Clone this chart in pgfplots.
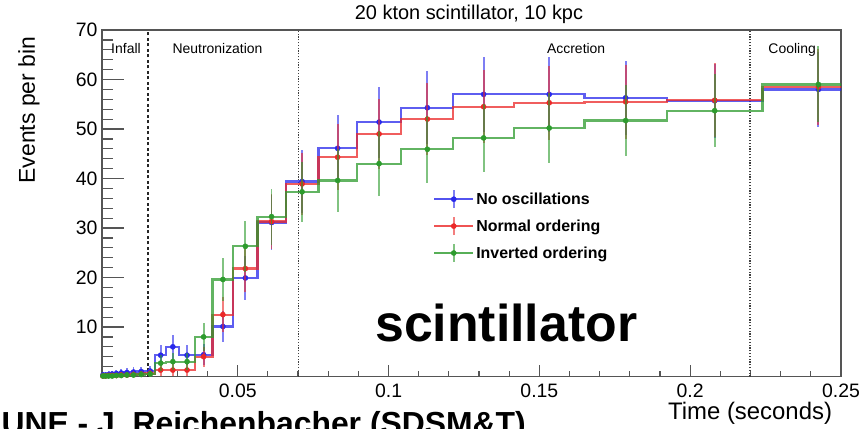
\documentclass[border=0pt]{standalone}
\usepackage{pgfplots}
\pgfplotsset{compat=1.18}
\usepackage{pgfplotstable}
\usepackage{fontspec}
\setmainfont{Liberation Sans}
\definecolor{bluecol}{RGB}{40,40,235}
\definecolor{redcol}{RGB}{235,40,40}
\definecolor{greencol}{RGB}{45,155,45}
\definecolor{framecol}{RGB}{85,85,85}

% left bin edges (last row = right edge of last bin)
\pgfplotstableread{
e b r g
0.00489 0.3 0.1 0.1
0.00570 0.3 0.1 0.1
0.00664 0.4 0.2 0.1
0.00774 0.5 0.2 0.1
0.00902 0.6 0.2 0.2
0.01051 0.7 0.3 0.2
0.01225 0.8 0.3 0.3
0.01427 0.9 0.4 0.3
0.01663 1.0 0.5 0.4
0.01938 1.1 0.6 0.5
0.02258 4.3 1.3 2.7
0.02631 6.0 1.3 3.0
0.03066 4.3 1.3 3.0
0.03573 4.4 4.0 8.0
0.04164 10.1 12.5 19.6
0.04852 19.9 21.8 26.3
0.05654 31.1 31.3 32.3
0.06588 39.4 38.9 37.3
0.07677 46.1 44.3 39.6
0.08946 51.4 49.0 43.0
0.10425 54.3 52.0 45.9
0.12148 57.0 54.5 48.2
0.14156 57.0 55.3 50.2
0.16496 56.3 55.5 51.7
0.19223 55.7 55.8 53.7
0.22400 58.0 58.5 59.0
0.26103 58.0 58.5 59.0
}\hist

% bin centres, values and errors
\pgfplotstableread{
c b be r re g ge
0.00530 0.3 0.55 0.1 0.32 0.1 0.32
0.00617 0.3 0.55 0.1 0.32 0.1 0.32
0.00719 0.4 0.63 0.2 0.45 0.1 0.32
0.00838 0.5 0.71 0.2 0.45 0.1 0.32
0.00977 0.6 0.77 0.2 0.45 0.2 0.45
0.01138 0.7 0.84 0.3 0.55 0.2 0.45
0.01326 0.8 0.89 0.3 0.55 0.3 0.55
0.01545 0.9 0.95 0.4 0.63 0.3 0.55
0.01801 1.0 1.00 0.5 0.71 0.4 0.63
0.02098 1.1 1.05 0.6 0.77 0.5 0.71
0.02445 4.3 2.07 1.3 1.14 2.7 1.64
0.02849 6.0 2.45 1.3 1.14 3.0 1.73
0.03320 4.3 2.07 1.3 1.14 3.0 1.73
0.03869 4.4 2.10 4.0 2.00 8.0 2.83
0.04508 10.1 3.18 12.5 3.54 19.6 4.43
0.05253 19.9 4.46 21.8 4.67 26.3 5.13
0.06121 31.1 5.58 31.3 5.59 32.3 5.68
0.07133 39.4 6.28 38.9 6.24 37.3 6.11
0.08312 46.1 6.79 44.3 6.66 39.6 6.29
0.09686 51.4 7.17 49.0 7.00 43.0 6.56
0.11287 54.3 7.37 52.0 7.21 45.9 6.77
0.13152 57.0 7.55 54.5 7.38 48.2 6.94
0.15326 57.0 7.55 55.3 7.44 50.2 7.09
0.17860 56.3 7.50 55.5 7.45 51.7 7.19
0.20812 55.7 7.46 55.8 7.47 53.7 7.33
0.24252 58.0 7.62 58.5 7.65 59.0 7.68
}\pts

\pgfplotsset{
  histline/.style={const plot, line width=2.2bp, opacity=0.75, forget plot},
  errpts/.style={only marks, mark=*, mark size=2.6bp, forget plot,
    error bars/y dir=both, error bars/y explicit, error bars/error mark=none,
    error bars/error bar style={line width=1.9bp, opacity=0.6}},
}

\begin{document}
\begin{tikzpicture}
\path[use as bounding box] (-102bp,-52.5bp) rectangle (761bp,376.5bp);

% overlay axis: x ticks and labels only
\begin{axis}[
  at={(0bp,0bp)}, anchor=south west,
  scale only axis, width=739bp, height=346.5bp,
  xmin=0.005, xmax=0.25, ymin=0, ymax=70,
  axis line style={draw=none},
  tick align=inside, tick pos=left,
  ytick=\empty,
  xtick={0.05,0.1,0.15,0.2,0.25},
  xticklabels={0.05,0.1,0.15,0.2,0.25},
  minor xtick={0.01,0.02,0.03,0.04,0.06,0.07,0.08,0.09,0.11,0.12,0.13,0.14,0.16,0.17,0.18,0.19,0.21,0.22,0.23,0.24},
  major tick length=11.7bp, minor tick length=6bp,
  every tick/.style={framecol, line width=1.2bp},
  xticklabel style={font=\fontsize{19.5}{22}\selectfont, anchor=base, yshift=-20.5bp},
]
\end{axis}

\begin{axis}[
  at={(0bp,0bp)}, anchor=south west,
  scale only axis, width=739bp, height=346.5bp,
  xmin=0.005, xmax=0.25, ymin=0, ymax=70,
  clip mode=individual,
  axis line style={framecol, line width=1.4bp},
  tick align=inside, tick pos=left,
  xtick=\empty,
  ytick={0,10,20,30,40,50,60,70},
  yticklabels={{},10,20,30,40,50,60,70},
  minor y tick num=4,
  major tick length=22bp, minor tick length=11bp,
  every tick/.style={framecol, line width=1.2bp},
  yticklabel style={font=\fontsize{19.5}{22}\selectfont, anchor=east, xshift=-1bp},
  legend style={draw=none, fill=none, at={(0.448,0.541)}, anchor=north west,
    font=\fontsize{16}{18}\selectfont\bfseries, row sep=7bp, inner sep=0pt},
  legend cell align=left,
]
% phase boundaries
\addplot[black!85, line width=1.5bp, dash pattern=on 3bp off 2.5bp, forget plot] coordinates {(0.02025,0) (0.02025,70)};
\addplot[black!75, line width=1.5bp, dash pattern=on 1.2bp off 1.6bp, forget plot] coordinates {(0.0701,0) (0.0701,70)};
\addplot[black!75, line width=1.5bp, dash pattern=on 1.2bp off 1.6bp, forget plot] coordinates {(0.2199,0) (0.2199,70)};

% histograms
\addplot[histline, bluecol] table[x=e, y=b] {\hist};
\addplot[histline, redcol] table[x=e, y=r] {\hist};
\addplot[histline, greencol] table[x=e, y=g] {\hist};

% points with error bars
\addplot[errpts, bluecol] table[x=c, y=b, y error=be] {\pts};
\addplot[errpts, redcol] table[x=c, y=r, y error=re] {\pts};
\addplot[errpts, greencol] table[x=c, y=g, y error=ge] {\pts};

\addlegendimage{legend image code/.code={
  \draw[bluecol, opacity=0.8, line width=2bp] (0bp,0bp) -- (39bp,0bp);
  \draw[bluecol, opacity=0.6, line width=1.9bp] (19.5bp,-9bp) -- (19.5bp,9bp);
  \fill[bluecol] (19.5bp,0bp) circle (2.6bp);}}
\addlegendentry{No oscillations}
\addlegendimage{legend image code/.code={
  \draw[redcol, opacity=0.8, line width=2bp] (0bp,0bp) -- (39bp,0bp);
  \draw[redcol, opacity=0.6, line width=1.9bp] (19.5bp,-9bp) -- (19.5bp,9bp);
  \fill[redcol] (19.5bp,0bp) circle (2.6bp);}}
\addlegendentry{Normal ordering}
\addlegendimage{legend image code/.code={
  \draw[greencol, opacity=0.8, line width=2bp] (0bp,0bp) -- (39bp,0bp);
  \draw[greencol, opacity=0.6, line width=1.9bp] (19.5bp,-9bp) -- (19.5bp,9bp);
  \fill[greencol] (19.5bp,0bp) circle (2.6bp);}}
\addlegendentry{Inverted ordering}

% phase labels
\node[anchor=base, font=\fontsize{14}{16}\selectfont] at (axis cs:0.01295,65.2) {Infall};
\node[anchor=base, font=\fontsize{14}{16}\selectfont] at (axis cs:0.0433,65.2) {Neutronization};
\node[anchor=base, font=\fontsize{14}{16}\selectfont] at (axis cs:0.1622,65.2) {Accretion};
\node[anchor=base, font=\fontsize{14}{16}\selectfont] at (axis cs:0.2338,65.2) {Cooling};

% big overlay word
\node[anchor=base, font=\fontsize{52}{52}\selectfont\bfseries] at (axis cs:0.139,7.0) {scintillator};

% title and axis titles
\node[anchor=base, font=\fontsize{20}{24}\selectfont] at (rel axis cs:0.4966,1.029) {20 kton scintillator, 10 kpc};
\node[anchor=base, rotate=90, font=\fontsize{23}{26}\selectfont] at (rel axis cs:-0.0907,0.769) {Events per bin};
\node[anchor=base east, font=\fontsize{24}{27}\selectfont] at (rel axis cs:0.9926,-0.1241) {Time (seconds)};
\node[anchor=base west, font=\fontsize{32}{35}\selectfont\bfseries] at (rel axis cs:-0.1407,-0.1674) {UNE - J. Reichenbacher (SDSM\&T)};
\end{axis}
\end{tikzpicture}
\end{document}
